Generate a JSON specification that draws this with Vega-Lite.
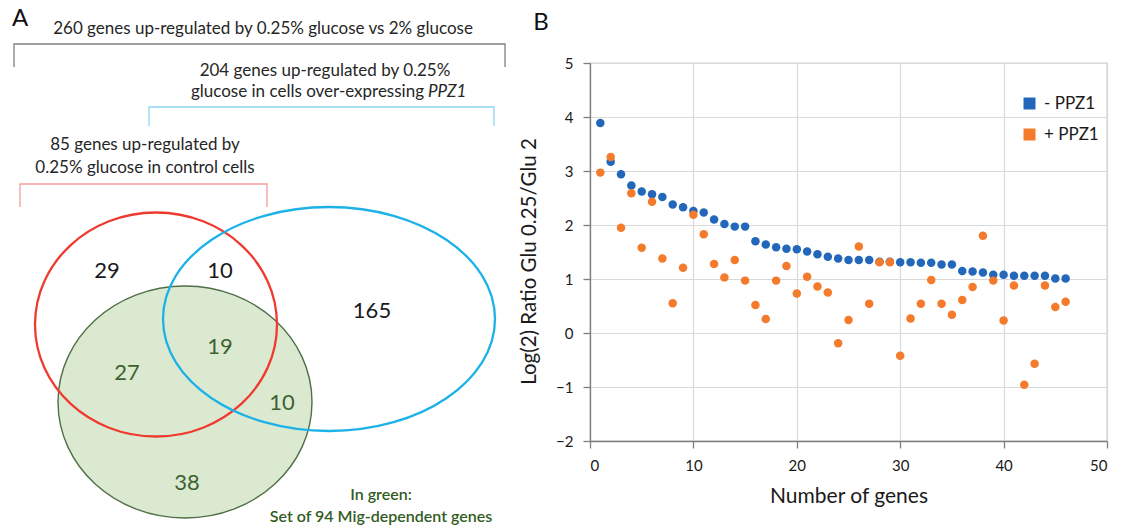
{
  "$schema": "https://vega.github.io/schema/vega-lite/v6.json",
  "padding": 0,
  "background": "white",
  "bounds": "flush",
  "spacing": 30,
  "config": {"view": {"stroke": null}, "font": "Lato"},
  "hconcat": [
    {
      "width": 560,
      "height": 529,
      "encoding": {
        "x": {"field": "cx", "type": "quantitative", "scale": {"domain": [0, 560], "nice": false, "zero": false}, "axis": null},
        "y": {"field": "cy", "type": "quantitative", "scale": {"domain": [0, 529], "reverse": true, "nice": false, "zero": false}, "axis": null}
      },
      "layer": [
        {
          "data": {"values": [{"set": "Mig-dependent", "cx": 185, "cy": 402}]},
          "mark": {"type": "point", "shape": "M -127 0 A 127 116 0 1 0 127 0 A 127 116 0 1 0 -127 0 Z", "size": 4, "filled": true, "fill": "#dbe9d1", "stroke": "#4f6f46", "strokeWidth": 1.4, "opacity": 1}
        },
        {
          "data": {"values": [{"set": "control", "cx": 156, "cy": 324.5}]},
          "mark": {"type": "point", "shape": "M -121 0 A 121 112 0 1 0 121 0 A 121 112 0 1 0 -121 0 Z", "size": 4, "filled": false, "stroke": "#ef3b2f", "strokeWidth": 2.3, "opacity": 1}
        },
        {
          "data": {"values": [{"set": "PPZ1", "cx": 329, "cy": 319}]},
          "mark": {"type": "point", "shape": "M -166 0 A 166 112 0 1 0 166 0 A 166 112 0 1 0 -166 0 Z", "size": 4, "filled": false, "stroke": "#1cb2e8", "strokeWidth": 2.3, "opacity": 1}
        },
        {
          "data": {"values": [{"k": 1, "cx": 14, "cy": 67}, {"k": 2, "cx": 14, "cy": 44}, {"k": 3, "cx": 505, "cy": 44}, {"k": 4, "cx": 505, "cy": 67}]},
          "mark": {"type": "line", "color": "#808080", "strokeWidth": 1.3},
          "encoding": {"order": {"field": "k", "type": "quantitative"}}
        },
        {
          "data": {"values": [{"k": 1, "cx": 149, "cy": 126}, {"k": 2, "cx": 149, "cy": 107}, {"k": 3, "cx": 494, "cy": 107}, {"k": 4, "cx": 494, "cy": 126}]},
          "mark": {"type": "line", "color": "#8fd4f1", "strokeWidth": 1.3},
          "encoding": {"order": {"field": "k", "type": "quantitative"}}
        },
        {
          "data": {"values": [{"k": 1, "cx": 20, "cy": 207}, {"k": 2, "cx": 20, "cy": 184}, {"k": 3, "cx": 267, "cy": 184}, {"k": 4, "cx": 267, "cy": 207}]},
          "mark": {"type": "line", "color": "#f49c9c", "strokeWidth": 1.3},
          "encoding": {"order": {"field": "k", "type": "quantitative"}}
        },
        {
          "data": {"values": [
            {"t": "260 genes up-regulated by 0.25% glucose vs 2% glucose", "cx": 263, "cy": 29},
            {"t": "204 genes up-regulated by 0.25%", "cx": 325, "cy": 71},
            {"t": "85 genes up-regulated by", "cx": 145, "cy": 145},
            {"t": "0.25% glucose in control cells", "cx": 145, "cy": 167.5}
          ]},
          "mark": {"type": "text", "fontSize": 17, "color": "#262626", "align": "center", "baseline": "middle"},
          "encoding": {"text": {"field": "t"}}
        },
        {
          "data": {"values": [{"t": "glucose in cells over-expressing", "cx": 424, "cy": 92}]},
          "mark": {"type": "text", "fontSize": 17, "color": "#262626", "align": "right", "baseline": "middle"},
          "encoding": {"text": {"field": "t"}}
        },
        {
          "data": {"values": [{"t": "PPZ1", "cx": 428, "cy": 92}]},
          "mark": {"type": "text", "fontSize": 17, "fontStyle": "italic", "color": "#262626", "align": "left", "baseline": "middle"},
          "encoding": {"text": {"field": "t"}}
        },
        {
          "data": {"values": [
            {"t": "29", "cx": 107, "cy": 271},
            {"t": "10", "cx": 220, "cy": 271},
            {"t": "165", "cx": 372, "cy": 311}
          ]},
          "mark": {"type": "text", "fontSize": 22, "color": "#1a1a1a", "align": "center", "baseline": "middle"},
          "encoding": {"text": {"field": "t"}}
        },
        {
          "data": {"values": [
            {"t": "19", "cx": 220, "cy": 347},
            {"t": "27", "cx": 127, "cy": 373},
            {"t": "10", "cx": 282, "cy": 403},
            {"t": "38", "cx": 187, "cy": 483}
          ]},
          "mark": {"type": "text", "fontSize": 22, "color": "#3f6130", "align": "center", "baseline": "middle"},
          "encoding": {"text": {"field": "t"}}
        },
        {
          "data": {"values": [
            {"t": "In green:", "cx": 381, "cy": 495},
            {"t": "Set of 94 Mig-dependent genes", "cx": 381, "cy": 517}
          ]},
          "mark": {"type": "text", "fontSize": 16, "fontWeight": 600, "color": "#335c1f", "align": "center", "baseline": "middle"},
          "encoding": {"text": {"field": "t"}}
        },
        {
          "data": {"values": [
            {"t": "A", "cx": 20, "cy": 19},
            {"t": "B", "cx": 541, "cy": 23}
          ]},
          "mark": {"type": "text", "fontSize": 24, "color": "#111111", "align": "center", "baseline": "middle"},
          "encoding": {"text": {"field": "t"}}
        }
      ]
    },
    {
      "bounds": "flush",
      "spacing": 8,
      "vconcat": [
        {
          "width": 517,
          "height": 55,
          "data": {"values": [{"t": ""}]},
          "mark": {"type": "text"},
          "encoding": {"text": {"field": "t"}}
        },
        {
          "width": 517,
          "height": 378,
          "view": {"stroke": "#a6a6a6", "strokeWidth": 1.2},
          "data": {"values": [
            {"n": 1, "v": 3.89, "s": "- PPZ1"}, {"n": 2, "v": 3.17, "s": "- PPZ1"}, {"n": 3, "v": 2.94, "s": "- PPZ1"}, {"n": 4, "v": 2.73, "s": "- PPZ1"},
            {"n": 5, "v": 2.62, "s": "- PPZ1"}, {"n": 6, "v": 2.57, "s": "- PPZ1"}, {"n": 7, "v": 2.52, "s": "- PPZ1"}, {"n": 8, "v": 2.38, "s": "- PPZ1"},
            {"n": 9, "v": 2.33, "s": "- PPZ1"}, {"n": 10, "v": 2.26, "s": "- PPZ1"}, {"n": 11, "v": 2.23, "s": "- PPZ1"}, {"n": 12, "v": 2.10, "s": "- PPZ1"},
            {"n": 13, "v": 2.02, "s": "- PPZ1"}, {"n": 14, "v": 1.97, "s": "- PPZ1"}, {"n": 15, "v": 1.97, "s": "- PPZ1"}, {"n": 16, "v": 1.70, "s": "- PPZ1"},
            {"n": 17, "v": 1.64, "s": "- PPZ1"}, {"n": 18, "v": 1.59, "s": "- PPZ1"}, {"n": 19, "v": 1.56, "s": "- PPZ1"}, {"n": 20, "v": 1.55, "s": "- PPZ1"},
            {"n": 21, "v": 1.51, "s": "- PPZ1"}, {"n": 22, "v": 1.46, "s": "- PPZ1"}, {"n": 23, "v": 1.41, "s": "- PPZ1"}, {"n": 24, "v": 1.38, "s": "- PPZ1"},
            {"n": 25, "v": 1.35, "s": "- PPZ1"}, {"n": 26, "v": 1.35, "s": "- PPZ1"}, {"n": 27, "v": 1.35, "s": "- PPZ1"}, {"n": 28, "v": 1.32, "s": "- PPZ1"},
            {"n": 29, "v": 1.32, "s": "- PPZ1"}, {"n": 30, "v": 1.31, "s": "- PPZ1"}, {"n": 31, "v": 1.31, "s": "- PPZ1"}, {"n": 32, "v": 1.30, "s": "- PPZ1"},
            {"n": 33, "v": 1.30, "s": "- PPZ1"}, {"n": 34, "v": 1.27, "s": "- PPZ1"}, {"n": 35, "v": 1.27, "s": "- PPZ1"}, {"n": 36, "v": 1.15, "s": "- PPZ1"},
            {"n": 37, "v": 1.14, "s": "- PPZ1"}, {"n": 38, "v": 1.12, "s": "- PPZ1"}, {"n": 39, "v": 1.08, "s": "- PPZ1"}, {"n": 40, "v": 1.08, "s": "- PPZ1"},
            {"n": 41, "v": 1.06, "s": "- PPZ1"}, {"n": 42, "v": 1.06, "s": "- PPZ1"}, {"n": 43, "v": 1.06, "s": "- PPZ1"}, {"n": 44, "v": 1.06, "s": "- PPZ1"},
            {"n": 45, "v": 1.01, "s": "- PPZ1"}, {"n": 46, "v": 1.01, "s": "- PPZ1"},
            {"n": 1, "v": 2.97, "s": "+ PPZ1"}, {"n": 2, "v": 3.26, "s": "+ PPZ1"}, {"n": 3, "v": 1.95, "s": "+ PPZ1"}, {"n": 4, "v": 2.59, "s": "+ PPZ1"},
            {"n": 5, "v": 1.58, "s": "+ PPZ1"}, {"n": 6, "v": 2.43, "s": "+ PPZ1"}, {"n": 7, "v": 1.38, "s": "+ PPZ1"}, {"n": 8, "v": 0.55, "s": "+ PPZ1"},
            {"n": 9, "v": 1.21, "s": "+ PPZ1"}, {"n": 10, "v": 2.19, "s": "+ PPZ1"}, {"n": 11, "v": 1.83, "s": "+ PPZ1"}, {"n": 12, "v": 1.28, "s": "+ PPZ1"},
            {"n": 13, "v": 1.03, "s": "+ PPZ1"}, {"n": 14, "v": 1.35, "s": "+ PPZ1"}, {"n": 15, "v": 0.97, "s": "+ PPZ1"}, {"n": 16, "v": 0.52, "s": "+ PPZ1"},
            {"n": 17, "v": 0.26, "s": "+ PPZ1"}, {"n": 18, "v": 0.97, "s": "+ PPZ1"}, {"n": 19, "v": 1.24, "s": "+ PPZ1"}, {"n": 20, "v": 0.73, "s": "+ PPZ1"},
            {"n": 21, "v": 1.04, "s": "+ PPZ1"}, {"n": 22, "v": 0.86, "s": "+ PPZ1"}, {"n": 23, "v": 0.75, "s": "+ PPZ1"}, {"n": 24, "v": -0.19, "s": "+ PPZ1"},
            {"n": 25, "v": 0.24, "s": "+ PPZ1"}, {"n": 26, "v": 1.60, "s": "+ PPZ1"}, {"n": 27, "v": 0.54, "s": "+ PPZ1"}, {"n": 28, "v": 1.31, "s": "+ PPZ1"},
            {"n": 29, "v": 1.31, "s": "+ PPZ1"}, {"n": 30, "v": -0.42, "s": "+ PPZ1"}, {"n": 31, "v": 0.27, "s": "+ PPZ1"}, {"n": 32, "v": 0.54, "s": "+ PPZ1"},
            {"n": 33, "v": 0.98, "s": "+ PPZ1"}, {"n": 34, "v": 0.54, "s": "+ PPZ1"}, {"n": 35, "v": 0.34, "s": "+ PPZ1"}, {"n": 36, "v": 0.61, "s": "+ PPZ1"},
            {"n": 37, "v": 0.85, "s": "+ PPZ1"}, {"n": 38, "v": 1.80, "s": "+ PPZ1"}, {"n": 39, "v": 0.97, "s": "+ PPZ1"}, {"n": 40, "v": 0.23, "s": "+ PPZ1"},
            {"n": 41, "v": 0.88, "s": "+ PPZ1"}, {"n": 42, "v": -0.96, "s": "+ PPZ1"}, {"n": 43, "v": -0.57, "s": "+ PPZ1"}, {"n": 44, "v": 0.88, "s": "+ PPZ1"},
            {"n": 45, "v": 0.48, "s": "+ PPZ1"}, {"n": 46, "v": 0.58, "s": "+ PPZ1"}
          ]},
          "mark": {"type": "point", "filled": true, "size": 72, "opacity": 1, "strokeWidth": 0},
          "encoding": {
            "x": {"field": "n", "type": "quantitative", "scale": {"domain": [0, 50], "nice": false, "zero": false},
              "axis": {"values": [0, 10, 20, 30, 40, 50], "title": "Number of genes", "grid": true, "gridColor": "#d9d9d9", "gridWidth": 1.2,
                "domainColor": "#7f7f7f", "domainWidth": 1.3, "tickColor": "#7f7f7f", "tickSize": 7, "tickWidth": 1.3,
                "labelFontSize": 15, "labelColor": "#1a1a1a", "labelPadding": 10, "titleFontSize": 21, "titleFontWeight": "normal", "titleColor": "#1a1a1a", "titlePadding": 12}},
            "y": {"field": "v", "type": "quantitative", "scale": {"domain": [-2, 5], "nice": false, "zero": false},
              "axis": {"values": [-2, -1, 0, 1, 2, 3, 4, 5], "title": "Log(2) Ratio Glu 0.25/Glu 2", "grid": true, "gridColor": "#d9d9d9", "gridWidth": 1.2,
                "domainColor": "#7f7f7f", "domainWidth": 1.3, "tickColor": "#7f7f7f", "tickSize": 7, "tickWidth": 1.3,
                "labelFontSize": 15, "labelColor": "#1a1a1a", "labelPadding": 10, "titleFontSize": 20.5, "titleFontWeight": "normal", "titleColor": "#1a1a1a", "titlePadding": 16, "titleY": 198}},
            "color": {"field": "s", "type": "nominal", "scale": {"domain": ["- PPZ1", "+ PPZ1"], "range": ["#2267b9", "#f47a2c"]},
              "legend": {"orient": "none", "legendX": 1021, "legendY": 95, "title": null, "symbolType": "square", "symbolSize": 144,
                "labelFontSize": 17, "labelColor": "#1a1a1a", "rowPadding": 13, "labelOffset": 6, "symbolStrokeWidth": 0, "padding": 0}}
          }
        }
      ]
    }
  ]
}
